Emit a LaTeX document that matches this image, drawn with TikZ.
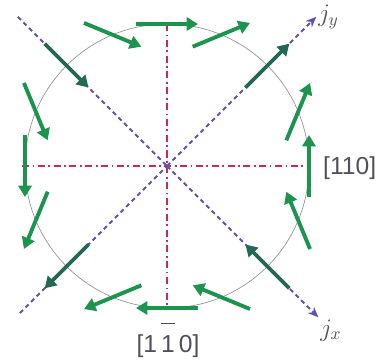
\documentclass[tikz,border=0pt]{standalone}
\usepackage{fontspec}
\setsansfont{Liberation Sans}
\usepackage{xcolor}
\definecolor{spingreen}{RGB}{28,148,78}
\definecolor{spindark}{RGB}{34,104,84}
\definecolor{axisred}{RGB}{205,40,85}
\definecolor{axisblue}{RGB}{92,82,178}
\definecolor{rimgray}{RGB}{150,150,150}
\definecolor{labelgray}{RGB}{80,80,92}
\usepackage{tikz}
\usetikzlibrary{arrows.meta,positioning,calc}
\tikzset{
  spin/.style={draw=spingreen, line width=2.2pt,
    -{Triangle[length=6.5pt,width=7.5pt]}},
  spindiag/.style={spin, draw=spindark, fill=spindark},
  crystalaxis/.style={draw=axisred, line width=1pt,
    dash pattern=on 4pt off 2pt on 1pt off 2pt},
  currentaxis/.style={draw=axisblue, line width=1.1pt,
    dash pattern=on 2.5pt off 2pt},
  rim/.style={draw=rimgray, line width=0.4pt},
  dirlabel/.style={font=\sffamily\fontsize{14}{16}\selectfont, text=labelgray},
}

\begin{document}
\begin{tikzpicture}[x=0.02cm,y=0.02cm]
\useasboundingbox (-167,-195) rectangle (217,166);
\coordinate (o) at (0,0);
\coordinate (jy) at (45:211);
\coordinate (jx) at (-45:214);
\coordinate (ul) at (135:211);
\coordinate (ll) at (-135:208);
\draw[rim] (o) circle (142);
\draw[crystalaxis] (0,142) -- (0,-142);
\draw[crystalaxis] (-145,0) -- (140,0);
\draw[currentaxis] (ul) -- (o);
\draw[currentaxis] (ll) -- (o);
\draw[currentaxis,-{Stealth[length=6pt,width=5pt]}] (o) -- (jy);
\draw[currentaxis,-{Stealth[length=6pt,width=5pt]}] (o) -- (jx);
\foreach \a in {0,22.5,67.5,90,112.5,157.5,180,202.5,247.5,270,292.5,337.5}
  \draw[spin,shift={(\a:142)}] (90-\a:-31) -- (90-\a:31);
\foreach \a in {45,135,225,315}
  \draw[spindiag,shift={(\a:142)}] (90-\a:-31) -- (90-\a:31);
\node[anchor=west, inner sep=1pt, text=labelgray, font=\Large] (ly) at (jy) {$j_y$};
\node[anchor=north west, inner sep=1pt, text=labelgray, font=\Large] (lx) at (jx) {$j_x$};
\node[dirlabel, anchor=west] (l110) at (150,-2) {[110]};
\node[dirlabel, anchor=base] (l1m10) at (1,-186)
  {[1\,$\overline{\mbox{\raisebox{0pt}[1.05em][0pt]{1}}}$\,0]};
\end{tikzpicture}
\end{document}
